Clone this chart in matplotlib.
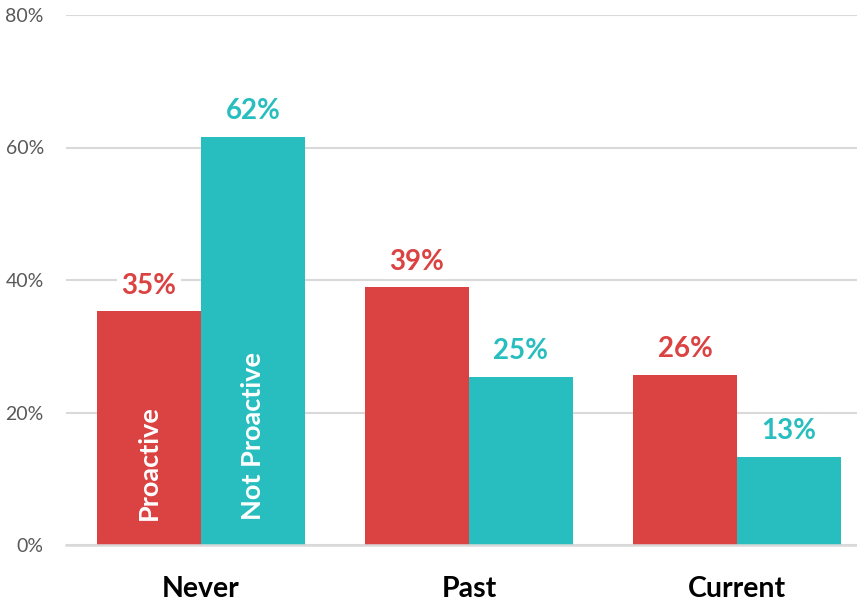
import numpy as np
import matplotlib.pyplot as plt

plt.rcParams['font.family'] = ['Lato', 'DejaVu Sans']

# data
categories = ['Never', 'Past', 'Current']
series_names = ['Proactive', 'Not Proactive']
proactive = [35.3, 38.9, 25.7]
not_proactive = [61.6, 25.4, 13.3]
proactive_labels = ['35%', '39%', '26%']
not_proactive_labels = ['62%', '25%', '13%']
yticks = [0, 20, 40, 60, 80]
ytick_labels = ['0%', '20%', '40%', '60%', '80%']

red = '#DB4242'
teal = '#28BDBE'
grid = '#D9D9D9'

fig = plt.figure(figsize=(8.57, 6.01), dpi=100)
ax = fig.add_axes([66 / 857, 56 / 601, 1 - 66 / 857, 530 / 601])

x = np.arange(len(categories))
w = 0.388
b1 = ax.bar(x - w / 2, proactive, w, color=red, zorder=3)
b2 = ax.bar(x + w / 2, not_proactive, w, color=teal, zorder=3)

for bars, labs, col in [(b1, proactive_labels, red), (b2, not_proactive_labels, teal)]:
    for bar, lab in zip(bars, labs):
        ax.annotate(lab, (bar.get_x() + bar.get_width() / 2, bar.get_height()),
                    xytext=(0, 9), textcoords='offset points', ha='center', va='bottom',
                    fontsize=20, fontweight='bold', color=col, zorder=4,
                    bbox=dict(boxstyle='square,pad=0.15', fc='white', ec='none'))

# series names written inside the first group
for bar, name in zip([b1[0], b2[0]], series_names):
    ax.text(bar.get_x() + bar.get_width() / 2, 3.8, name, rotation=90,
            ha='center', va='bottom', color='white', fontsize=19.5, fontweight='bold', zorder=4)

ax.set_xlim(-0.504, 2.448)
ax.set_ylim(0, 80)
ax.set_yticks(yticks)
ax.set_yticklabels(ytick_labels, fontsize=14, color='#595959')
ax.set_xticks(x)
ax.set_xticklabels(categories, fontsize=20.5, fontweight='bold', color='black')
ax.tick_params(axis='y', length=0, pad=16)
ax.tick_params(axis='x', length=0, pad=22)
ax.grid(axis='y', color=grid, linewidth=1.5, zorder=0)
for s in ['top', 'right', 'left']:
    ax.spines[s].set_visible(False)
ax.spines['bottom'].set_color(grid)
ax.spines['bottom'].set_linewidth(1.8)
ax.spines['bottom'].set_zorder(5)

fig.savefig('out.png', dpi=100)
